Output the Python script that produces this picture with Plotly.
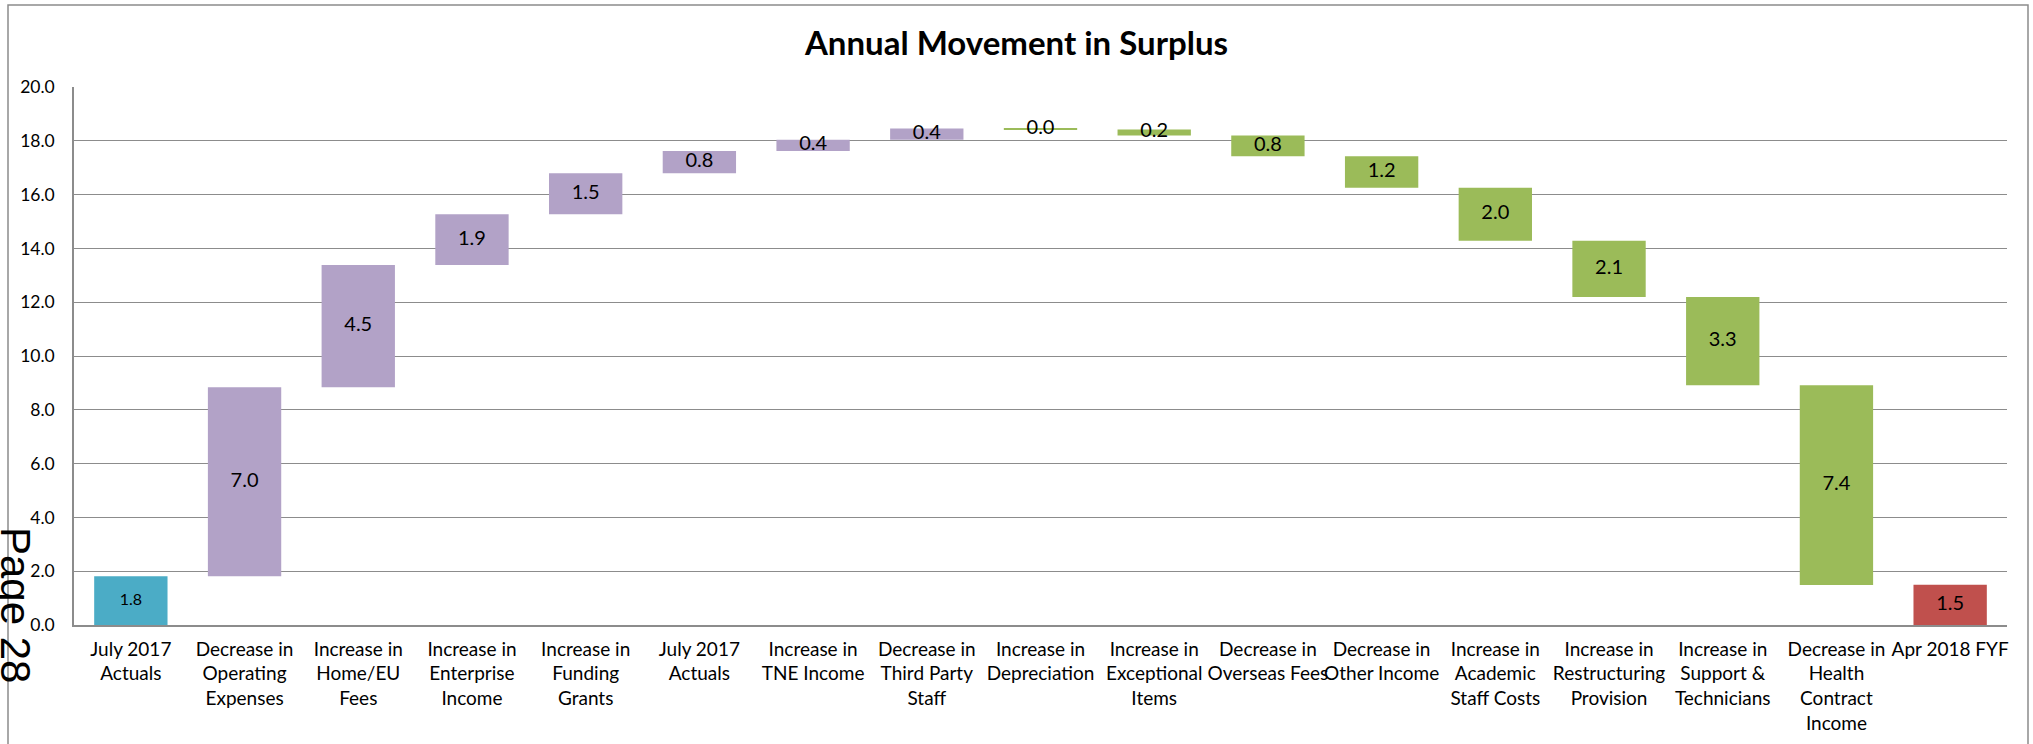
import plotly.graph_objects as go

# ---- data ----
categories = [
    "July 2017<br>Actuals",
    "Decrease in<br>Operating<br>Expenses",
    "Increase in<br>Home/EU<br>Fees",
    "Increase in<br>Enterprise<br>Income",
    "Increase in<br>Funding<br>Grants",
    "July 2017<br>Actuals",
    "Increase in<br>TNE Income",
    "Decrease in<br>Third Party<br>Staff",
    "Increase in<br>Depreciation",
    "Increase in<br>Exceptional<br>Items",
    "Decrease in<br>Overseas Fees",
    "Decrease in<br>Other Income",
    "Increase in<br>Academic<br>Staff Costs",
    "Increase in<br>Restructuring<br>Provision",
    "Increase in<br>Support &<br>Technicians",
    "Decrease in<br>Health<br>Contract<br>Income",
    "Apr 2018 FYF",
]
# signed movements; "total" entries are absolute levels
movements = [1.81, 7.03, 4.54, 1.89, 1.52, 0.83, 0.42, 0.42,
             -0.04, -0.22, -0.77, -1.18, -1.97, -2.09, -3.28, -7.42, 1.50]
kinds = ["total", "up", "up", "up", "up", "up", "up", "up",
         "down", "down", "down", "down", "down", "down", "down", "down", "total_end"]
y_ticks = [0, 2, 4, 6, 8, 10, 12, 14, 16, 18, 20]

# ---- styling ----
colors = {"total": "#4BACC6", "up": "#B2A2C7", "down": "#9BBB59", "total_end": "#C0504D"}

x = list(range(len(categories)))
bases, heights, mids, labels, bar_colors, label_sizes = [], [], [], [], [], []
level = 0.0
for v, k in zip(movements, kinds):
    if k in ("total", "total_end"):
        b, h = 0.0, v
        level = v
    else:
        new = level + v
        b, h = min(level, new), abs(v)
        level = new
    bases.append(b)
    heights.append(h)
    mids.append(b + h / 2)
    labels.append(f"{abs(v):.1f}")
    bar_colors.append(colors[k])
    label_sizes.append(16 if k == "total" else 20)

fig = go.Figure()
fig.add_trace(go.Bar(
    x=x, y=heights, base=bases,
    marker=dict(color=bar_colors, line=dict(width=0)),
    width=0.645, hoverinfo="skip", showlegend=False,
))
fig.add_trace(go.Scatter(
    x=x, y=mids, mode="text", text=labels,
    textfont=dict(family="Lato", size=label_sizes, color="#000000"),
    hoverinfo="skip", showlegend=False,
))

W, H = 2033, 744
ml, mr, mt, mb = 74, 26, 87, 119
pw, ph = W - ml - mr, H - mt - mb

def px_x(p):
    return (p - ml) / pw

def px_y(p):
    return (H - mb - p) / ph

# outer chart border
fig.add_shape(type="rect", xref="paper", yref="paper",
              x0=px_x(8), x1=px_x(2028), y0=px_y(770), y1=px_y(5),
              line=dict(color="#8c8c8c", width=1.5), fillcolor="rgba(0,0,0,0)", layer="below")

fig.add_annotation(text="Page 28", xref="paper", yref="paper",
                   x=px_x(16), y=px_y(605), showarrow=False, textangle=90,
                   font=dict(family="Liberation Sans, Arial", size=42, color="#000000"),
                   xanchor="center", yanchor="middle")

fig.update_layout(
    width=W, height=H,
    margin=dict(l=ml, r=mr, t=mt, b=mb, autoexpand=False),
    paper_bgcolor="white", plot_bgcolor="white",
    title=dict(text="<b>Annual Movement in Surplus</b>", x=0.5, xref="container",
               xanchor="center", y=1 - 43 / H, yanchor="middle",
               font=dict(family="Lato", size=33, color="#000000")),
    bargap=0.355,
    font=dict(family="Lato", color="#000000"),
)

fig.update_xaxes(
    range=[-0.5, len(categories) - 0.5],
    tickvals=x, ticktext=categories, tickangle=0,
    tickfont=dict(family="Lato", size=19, color="#000000"),
    showgrid=False, zeroline=False, automargin=False,
    showline=True, linecolor="#8c8c8c", linewidth=1.5,
    ticks="", ticklabelstandoff=6,
)
fig.update_yaxes(
    range=[0, 20], tickvals=y_ticks, ticktext=[f"{t:.1f}" for t in y_ticks],
    tickfont=dict(family="Lato", size=17.5, color="#000000"),
    showgrid=True, gridcolor="#8c8c8c", gridwidth=1.2, automargin=False,
    zeroline=False, showline=True, linecolor="#8c8c8c", linewidth=1.5,
    ticks="", ticklabelstandoff=14,
)

fig.write_html("out.html")
